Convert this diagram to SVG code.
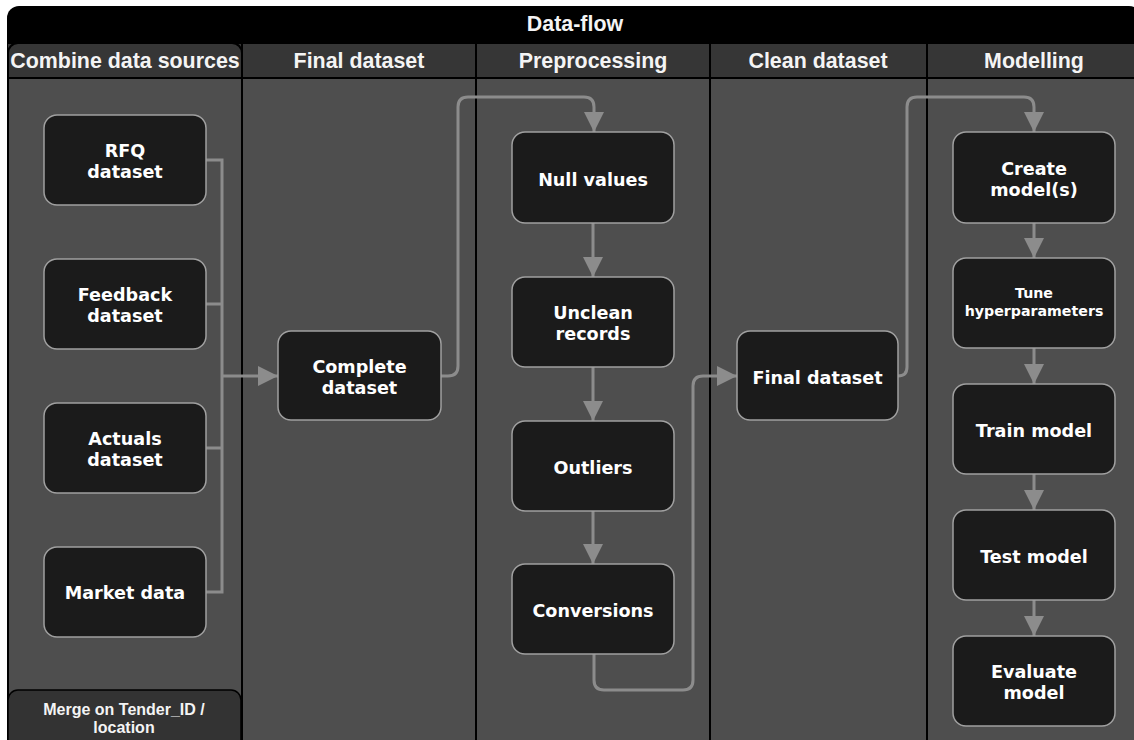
<svg xmlns="http://www.w3.org/2000/svg" width="1134" height="740" viewBox="0 0 1134 740">
  <style>
    .hdr { fill: #363636; }
    .body { fill: #4e4e4e; }
    .sep { stroke: #000; stroke-width: 2; fill: none; }
    .title { font-family: "Liberation Sans", Arial, sans-serif; font-weight: bold; font-size: 21.4px; fill: #f4f4f4; text-anchor: middle; }
    .lbl { font-family: "Liberation Sans", Arial, sans-serif; font-weight: bold; font-size: 16px; fill: #f4f4f4; text-anchor: middle; }
    .node rect { fill: #1b1b1b; stroke: #a0a0a0; stroke-width: 1.5; }
    .node text { font-family: "DejaVu Sans", Verdana, sans-serif; font-weight: bold; font-size: 17.6px; fill: #ffffff; text-anchor: middle; }
    .node text.small { font-size: 14.2px; }
    .edge { fill: none; stroke: #8c8c8c; stroke-width: 3; }
  </style>
  <defs>
    <marker id="arr" markerUnits="userSpaceOnUse" markerWidth="20" markerHeight="20" refX="20" refY="10" orient="auto">
      <path d="M0,0 L20,10 L0,20 z" fill="#8c8c8c"/>
    </marker>
  </defs>

  <!-- pool frame, title bar, lane headers and bodies -->
  <g id="pool">
    <rect x="7" y="6" width="1134" height="760" rx="12" fill="#000"/>
    <text class="title" x="575" y="31">Data-flow</text>
    <rect class="hdr" x="8" y="44" width="1130" height="34"/>
    <rect class="body" x="8" y="79" width="1130" height="670"/>
    <line class="sep" x1="7" y1="78" x2="1134" y2="78"/>
    <line class="sep" x1="242" y1="43" x2="242" y2="740"/>
    <line class="sep" x1="476" y1="43" x2="476" y2="740"/>
    <line class="sep" x1="710" y1="43" x2="710" y2="740"/>
    <line class="sep" x1="927" y1="43" x2="927" y2="740"/>
    <rect x="8" y="43" width="234" height="720" rx="10" fill="none" stroke="#000" stroke-width="2"/>
    <text class="title" x="125" y="68">Combine data sources</text>
    <text class="title" x="359" y="68">Final dataset</text>
    <text class="title" x="593" y="68">Preprocessing</text>
    <text class="title" x="818" y="68">Clean dataset</text>
    <text class="title" x="1034" y="68">Modelling</text>
  </g>

  <!-- lane footer note -->
  <g id="merge-note">
    <rect x="8" y="690" width="233" height="70" rx="10" fill="#333" stroke="#000" stroke-width="1.5"/>
    <text class="lbl" x="124" y="715">Merge on Tender_ID /</text>
    <text class="lbl" x="124" y="733">location</text>
  </g>

  <!-- connectors -->
  <g id="connectors">
    <path class="edge" d="M206,160 H222 V592 H206"/>
    <path class="edge" d="M206,304 H222"/>
    <path class="edge" d="M206,448 H222"/>
    <path class="edge" d="M222,376 H278" marker-end="url(#arr)"/>
    <path class="edge" d="M441,376 H448 Q458,376 458,366 V107 Q458,97 468,97 H584 Q594,97 594,107 V132" marker-end="url(#arr)"/>
    <path class="edge" d="M593,223 V277" marker-end="url(#arr)"/>
    <path class="edge" d="M593,367 V421" marker-end="url(#arr)"/>
    <path class="edge" d="M593,511 V564" marker-end="url(#arr)"/>
    <path class="edge" d="M594,654 V680 Q594,690 604,690 H683 Q693,690 693,680 V386 Q693,376 703,376 H737" marker-end="url(#arr)"/>
    <path class="edge" d="M898,376 Q907,376 907,367 V107 Q907,97 917,97 H1024 Q1034,97 1034,107 V132" marker-end="url(#arr)"/>
    <path class="edge" d="M1034,223 V258" marker-end="url(#arr)"/>
    <path class="edge" d="M1034,348 V384" marker-end="url(#arr)"/>
    <path class="edge" d="M1034,474 V510" marker-end="url(#arr)"/>
    <path class="edge" d="M1034,600 V636" marker-end="url(#arr)"/>
  </g>

  <!-- Combine data sources -->
  <g id="rfq" class="node">
    <rect x="44" y="115" width="162" height="90" rx="13"/>
    <text x="125" y="157">RFQ</text>
    <text x="125" y="178">dataset</text>
  </g>
  <g id="feedback" class="node">
    <rect x="44" y="259" width="162" height="90" rx="13"/>
    <text x="125" y="301">Feedback</text>
    <text x="125" y="322">dataset</text>
  </g>
  <g id="actuals" class="node">
    <rect x="44" y="403" width="162" height="90" rx="13"/>
    <text x="125" y="445">Actuals</text>
    <text x="125" y="466">dataset</text>
  </g>
  <g id="market" class="node">
    <rect x="44" y="547" width="162" height="90" rx="13"/>
    <text x="125" y="599">Market data</text>
  </g>

  <!-- Final dataset -->
  <g id="complete" class="node">
    <rect x="278" y="331" width="163" height="89" rx="13"/>
    <text x="359.5" y="372.5">Complete</text>
    <text x="359.5" y="393.5">dataset</text>
  </g>

  <!-- Preprocessing -->
  <g id="nulls" class="node">
    <rect x="512" y="132" width="162" height="91" rx="13"/>
    <text x="593" y="186">Null values</text>
  </g>
  <g id="unclean" class="node">
    <rect x="512" y="277" width="162" height="90" rx="13"/>
    <text x="593" y="319">Unclean</text>
    <text x="593" y="340">records</text>
  </g>
  <g id="outliers" class="node">
    <rect x="512" y="421" width="162" height="90" rx="13"/>
    <text x="593" y="474">Outliers</text>
  </g>
  <g id="conversions" class="node">
    <rect x="512" y="564" width="162" height="90" rx="13"/>
    <text x="593" y="617">Conversions</text>
  </g>

  <!-- Clean dataset -->
  <g id="final" class="node">
    <rect x="737" y="331" width="161" height="89" rx="13"/>
    <text x="817.5" y="384">Final dataset</text>
  </g>

  <!-- Modelling -->
  <g id="create" class="node">
    <rect x="953" y="132" width="162" height="91" rx="13"/>
    <text x="1034" y="175">Create</text>
    <text x="1034" y="196">model(s)</text>
  </g>
  <g id="tune" class="node">
    <rect x="953" y="258" width="162" height="90" rx="13"/>
    <text class="small" x="1034" y="298">Tune</text>
    <text class="small" x="1034" y="316">hyperparameters</text>
  </g>
  <g id="train" class="node">
    <rect x="953" y="384" width="162" height="90" rx="13"/>
    <text x="1034" y="437">Train model</text>
  </g>
  <g id="test" class="node">
    <rect x="953" y="510" width="162" height="90" rx="13"/>
    <text x="1034" y="563">Test model</text>
  </g>
  <g id="evaluate" class="node">
    <rect x="953" y="636" width="162" height="90" rx="13"/>
    <text x="1034" y="678">Evaluate</text>
    <text x="1034" y="699">model</text>
  </g>
</svg>
